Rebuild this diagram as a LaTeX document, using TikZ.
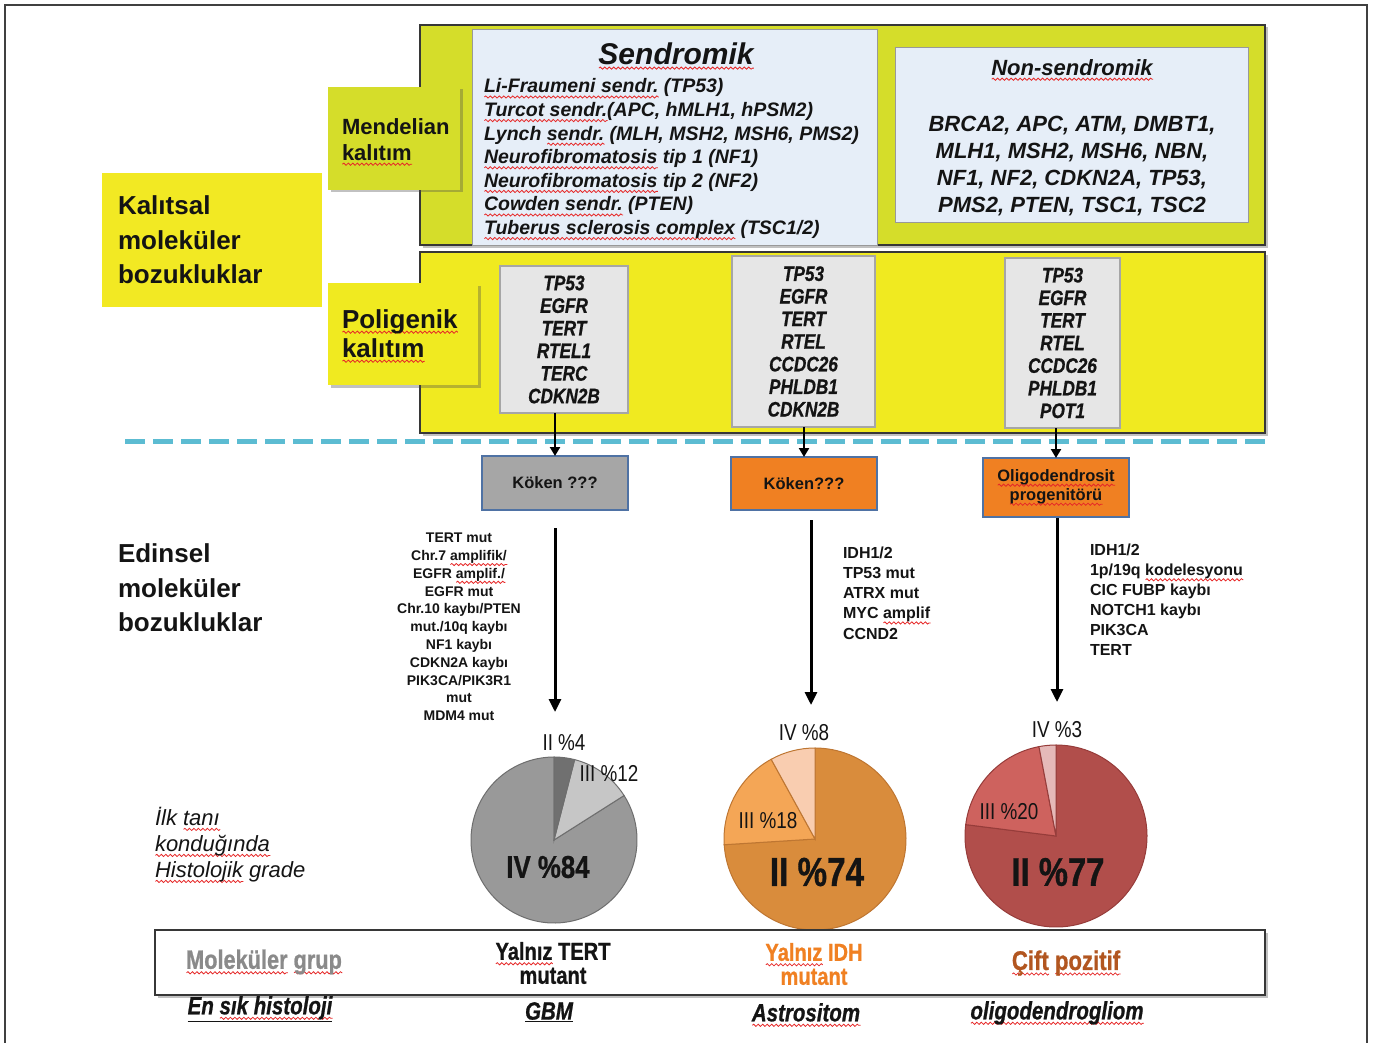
\documentclass[tikz,border=0pt]{standalone}
\usepackage{fontspec}
\setmainfont{Liberation Sans}
\newfontfamily\nar[FakeStretch=0.82]{Liberation Sans}
\newfontfamily\narb[FakeStretch=0.82, FakeBold=0.8, UprightFont={* Bold}, ItalicFont={* Bold Italic}]{Liberation Sans}
\usetikzlibrary{shadows,arrows.meta,decorations.pathmorphing}
\definecolor{cOlive}{RGB}{213,221,42}
\definecolor{cYel}{RGB}{240,234,32}
\definecolor{cYel2}{RGB}{242,233,35}
\definecolor{cBlue}{RGB}{230,238,248}
\definecolor{cGene}{RGB}{230,230,230}
\definecolor{cKgray}{RGB}{166,166,166}
\definecolor{cKbord}{RGB}{79,114,164}
\definecolor{cOrange}{RGB}{240,128,34}
\definecolor{cDash}{RGB}{92,188,210}
\definecolor{txt}{RGB}{20,20,20}
\definecolor{bord}{RGB}{55,55,55}
\definecolor{gA}{RGB}{112,112,112}
\definecolor{gB}{RGB}{198,198,198}
\definecolor{gC}{RGB}{153,153,153}
\definecolor{gE}{RGB}{110,110,110}
\definecolor{oA}{RGB}{217,140,60}
\definecolor{oB}{RGB}{244,166,86}
\definecolor{oC}{RGB}{249,205,176}
\definecolor{oE}{RGB}{190,118,50}
\definecolor{rA}{RGB}{177,78,75}
\definecolor{rB}{RGB}{206,98,94}
\definecolor{rC}{RGB}{229,185,184}
\definecolor{rE}{RGB}{150,60,58}
\definecolor{cGrayTxt}{RGB}{138,138,138}
\definecolor{cBrown}{RGB}{178,86,32}
\definecolor{cWave}{RGB}{230,40,40}
\newcommand\fz[2]{\fontsize{#1}{#2}\selectfont}
\newsavebox\splbox
\newcommand\spl[1]{\sbox\splbox{#1}\edef\splw{\the\wd\splbox}\leavevmode\rlap{\tikz[x=1pt,y=1pt,baseline=0pt]\draw[cWave, line width=0.8pt, decorate, decoration={snake, amplitude=1.1pt, segment length=4.5pt}] (0,-4) -- (\splw,-4);}\usebox\splbox}
\begin{document}
\begin{tikzpicture}[x=1pt,y=-1pt,
  every node/.style={inner sep=0pt, outer sep=0pt, text=txt},
  box/.style={anchor=north west},
  shd/.style={drop shadow={shadow xshift=2.5pt, shadow yshift=-2.5pt, opacity=0.35, fill=black!70}},
  bigbox/.style={box, draw=bord, line width=2pt, shd},
  genebox/.style={box, fill=cGene, draw=black!35, line width=1.2pt, align=center, font=\narb\itshape\fz{21}{22.6}},
  kbox/.style={box, draw=cKbord, line width=2.5pt, align=center, font=\fz{16.5}{19}\bfseries},
  shortarrow/.style={line width=2.5pt, -{Triangle[width=10pt,length=9pt]}},
  longarrow/.style={line width=3pt, -{Triangle[width=12pt,length=13pt]}},
  pielbl/.style={font=\nar\fz{23}{24}},
  histlbl/.style={font=\narb\itshape\fz{25}{26}},
]
\useasboundingbox (0,0) rectangle (1375,1043);
% outer frame
\draw[line width=2pt, black!75] (5,1043) -- (5,5) -- (1367,5) -- (1367,1043);

% big boxes
\node[bigbox, fill=cOlive, minimum width=845, minimum height=220] (topbig) at (420,25) {};
\node[bigbox, fill=cYel, minimum width=845, minimum height=181] (botbig) at (420,252) {};
\node[box, fill=cBlue, draw=black!40, line width=1pt, minimum width=405, minimum height=215] (sendbox) at (472,30) {};
\node[box, fill=cBlue, draw=black!40, line width=1pt, minimum width=353, minimum height=174] (nonbox) at (895,48) {};
\node[box, fill=cOlive, shd, minimum width=132, minimum height=103] (mendbox) at (328,87) {};
\node[box, fill=cYel2, minimum width=220, minimum height=134] (kalbox) at (102,173) {};
\node[box, fill=cYel, shd, minimum width=150, minimum height=102] (polibox) at (328,283) {};

% Sendromik texts
\node[font=\fz{30}{32}\bfseries\itshape] (sendtitle) at (676,56) {\spl{Sendromik}};
\foreach \t [count=\i] in {
  {\spl{Li-Fraumeni sendr.} (TP53)},
  {\spl{Turcot sendr.}(APC, hMLH1, hPSM2)},
  {Lynch \spl{sendr.} (MLH, MSH2, MSH6, PMS2)},
  {\spl{Neurofibromatosis} tip 1 (NF1)},
  {\spl{Neurofibromatosis} tip 2 (NF2)},
  {\spl{Cowden sendr.} (PTEN)},
  {\spl{Tuberus sclerosis complex} (TSC1/2)}}
  \node[anchor=base west, font=\fz{19.5}{22}\bfseries\itshape] (sl\i) at (484,{93+23.6*(\i-1)}) {\t};

% Non-sendromik texts
\node[font=\fz{22}{24}\bfseries\itshape] (nontitle) at (1072,70) {\spl{Non-sendromik}};
\node[align=center, font=\fz{22}{27.3}\bfseries\itshape] (nonlist) at (1072,166)
  {BRCA2, APC, ATM, DMBT1,\\MLH1, MSH2, MSH6, NBN,\\NF1, NF2, CDKN2A, TP53,\\PMS2, PTEN, TSC1, TSC2};

% side labels
\node[anchor=west, align=left, font=\fz{22}{26}\bfseries] (mendtxt) at (342,142) {Mendelian\\\spl{kalıtım}};
\node[anchor=west, align=left, font=\fz{26}{34.5}\bfseries] (kaltxt) at (118,240) {Kalıtsal\\moleküler\\bozukluklar};
\node[anchor=west, align=left, font=\fz{26}{29}\bfseries] (politxt) at (342,336) {\spl{Poligenik}\\\spl{kalıtım}};
\node[anchor=west, align=left, font=\fz{26}{34.5}\bfseries] (edtxt) at (118,588) {Edinsel\\moleküler\\bozukluklar};
\node[anchor=west, align=left, font=\fz{22}{26}\itshape] (ilktxt) at (155,845) {İlk \spl{tanı}\\\spl{konduğında}\\\spl{Histolojik} grade};

% gene boxes
\node[genebox, minimum width=128, minimum height=147] (g1) at (500,266) {TP53\\EGFR\\TERT\\RTEL1\\TERC\\CDKN2B};
\node[genebox, minimum width=143, minimum height=171] (g2) at (732,256) {TP53\\EGFR\\TERT\\RTEL\\CCDC26\\PHLDB1\\CDKN2B};
\node[genebox, minimum width=115, minimum height=170] (g3) at (1005,258) {TP53\\EGFR\\TERT\\RTEL\\CCDC26\\PHLDB1\\POT1};

% dashed separator
\draw[cDash, line width=5pt, dash pattern=on 20pt off 8pt] (125,441) -- (1265,441);

% origin boxes
\node[kbox, fill=cKgray, minimum width=146, minimum height=54] (k1) at (482,456) {Köken ???};
\node[kbox, fill=cOrange, minimum width=146, minimum height=53] (k2) at (731,457) {Köken???};
\node[kbox, fill=cOrange, minimum width=146, minimum height=59] (k3) at (983,458) {\spl{Oligodendrosit}\\\spl{progenitörü}};

\draw[shortarrow] (k1.north |- g1.south) -- (k1.north);
\draw[shortarrow] (k2.north |- g2.south) -- (k2.north);
\draw[shortarrow] (k3.north |- g3.south) -- (k3.north);

\coordinate (e1) at (555,712);
\coordinate (e2) at (811,705);
\coordinate (e3) at (1057,702);
\draw[longarrow] ([yshift=-18pt]k1.south) -- (e1);
\draw[longarrow] ([shift={(7,10)}]k2.south) -- (e2);
\draw[longarrow] ([shift={(1,1)}]k3.south) -- (e3);

% acquired alterations
\node[align=center, font=\fz{14}{17.8}\bfseries] (list1) at (459,627)
  {TERT mut\\Chr.7 \spl{amplifik/}\\EGFR \spl{amplif./}\\EGFR mut\\Chr.10 kaybı/PTEN\\mut./10q kaybı\\NF1 kaybı\\CDKN2A kaybı\\PIK3CA/PIK3R1\\mut\\MDM4 mut};
\node[anchor=west, align=left, font=\fz{16}{20.2}\bfseries] (list2) at (843,593)
  {IDH1/2\\TP53 mut\\ATRX mut\\MYC \spl{amplif}\\CCND2};
\node[anchor=west, align=left, font=\fz{16}{20}\bfseries] (list3) at (1090,600)
  {IDH1/2\\1p/19q \spl{kodelesyonu}\\CIC FUBP kaybı\\NOTCH1 kaybı\\PIK3CA\\TERT};

% pies
\begin{scope}[shift={(554,840)}, yscale=-1, line width=1pt]
  \filldraw[fill=gC, draw=gE] (0,0) -- (32.4:83) arc[start angle=32.4, end angle=-270, radius=83] -- cycle;
  \filldraw[fill=gB, draw=gE] (0,0) -- (75.6:83) arc[start angle=75.6, end angle=32.4, radius=83] -- cycle;
  \filldraw[fill=gA, draw=gE] (0,0) -- (90:83) arc[start angle=90, end angle=75.6, radius=83] -- cycle;
\end{scope}
\begin{scope}[shift={(815,839)}, yscale=-1, line width=1pt]
  \filldraw[fill=oA, draw=oE] (0,0) -- (183.6:91) arc[start angle=183.6, end angle=450, radius=91] -- cycle;
  \filldraw[fill=oB, draw=oE] (0,0) -- (118.8:91) arc[start angle=118.8, end angle=183.6, radius=91] -- cycle;
  \filldraw[fill=oC, draw=oE] (0,0) -- (90:91) arc[start angle=90, end angle=118.8, radius=91] -- cycle;
\end{scope}
\begin{scope}[shift={(1056,836)}, yscale=-1, line width=1pt]
  \filldraw[fill=rA, draw=rE] (0,0) -- (172.8:91) arc[start angle=172.8, end angle=450, radius=91] -- cycle;
  \filldraw[fill=rB, draw=rE] (0,0) -- (100.8:91) arc[start angle=100.8, end angle=172.8, radius=91] -- cycle;
  \filldraw[fill=rC, draw=rE] (0,0) -- (90:91) arc[start angle=90, end angle=100.8, radius=91] -- cycle;
\end{scope}

\node[pielbl] (p1a) at (564,743) {II \%4};
\node[pielbl] (p1b) at (609,774) {III \%12};
\node[font=\narb\fz{31.5}{33}] (p1c) at (548,867) {IV \%84};
\node[pielbl] (p2a) at (804,733) {IV \%8};
\node[pielbl] (p2b) at (768,821) {III \%18};
\node[font=\narb\fz{40.5}{42}] (p2c) at (817,872) {II \%74};
\node[pielbl] (p3a) at (1057,730) {IV \%3};
\node[pielbl] (p3b) at (1009,812) {III \%20};
\node[font=\narb\fz{40}{42}] (p3c) at (1058,872) {II \%77};

% bottom table
\node[box, fill=white, draw=bord, line width=2pt, shd, minimum width=1110, minimum height=65] (tbl) at (155,930) {};
\node[font=\narb\fz{26.5}{28}, text=cGrayTxt] (mg) at (264,962) {\spl{Moleküler} \spl{grup}};
\node[align=center, font=\narb\fz{24.5}{24}] (mg1) at (553,963) {\spl{Yalnız} TERT\\mutant};
\node[align=center, font=\narb\fz{24.5}{24}, text=cOrange] (mg2) at (814,964) {\spl{Yalnız} IDH\\mutant};
\node[font=\narb\fz{27}{28}, text=cBrown] (mg3) at (1066,963) {\spl{Çift} \spl{pozitif}};

\node[histlbl] (h0) at (260,1009) {\underline{En \spl{sık histoloji}}};
\node[histlbl] (h1) at (549,1012) {\underline{GBM}};
\node[histlbl] (h2) at (806,1015) {\spl{Astrositom}};
\node[histlbl] (h3) at (1057,1013) {\spl{oligodendrogliom}};
\end{tikzpicture}
\end{document}
